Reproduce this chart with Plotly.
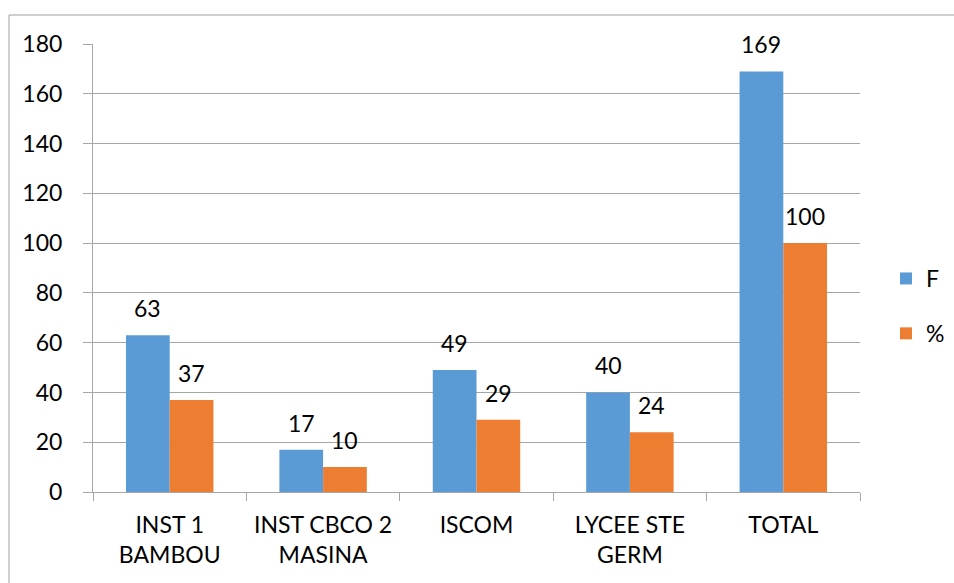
import plotly.graph_objects as go

categories = ["INST 1<br>BAMBOU", "INST CBCO 2<br>MASINA", "ISCOM", "LYCEE STE<br>GERM", "TOTAL"]
freq = [63, 17, 49, 40, 169]
pct = [37, 10, 29, 24, 100]
series_names = ["F", "%"]
colors = ["#5B9BD5", "#ED7D31"]

FONT = "Lato"
W, H = 954, 583
ml, mr, mt, mb = 93, 94, 44, 91
plot_w = W - ml - mr
bargap = 0.43
bar_px = plot_w / len(categories) * (1 - bargap) / 2

fig = go.Figure()
for i, (name, vals) in enumerate(zip(series_names, [freq, pct])):
    fig.add_trace(go.Bar(
        x=categories, y=vals, name=name, marker_color=colors[i],
        marker_line_width=0, legendgroup=name,
    ))
    # value labels above each bar
    for c, v in zip(categories, vals):
        fig.add_annotation(
            x=c, y=v, text=str(v), showarrow=False,
            xref="x", yref="y", yanchor="bottom",
            xshift=(-1 if i == 0 else 1) * bar_px / 2, yshift=11,
            font=dict(family=FONT, size=23, color="#000"),
        )

# outer chart frame
px_x = lambda p: (p - ml) / plot_w
px_y = lambda p: (H - mb - p) / (H - mt - mb)
fig.add_shape(type="rect", xref="paper", yref="paper",
              x0=px_x(9), x1=px_x(965), y0=px_y(15), y1=px_y(600),
              line=dict(color="#a0a0a0", width=1), fillcolor="rgba(0,0,0,0)", layer="below")

fig.update_layout(
    width=W, height=H,
    margin=dict(l=ml, r=mr, t=mt, b=mb, pad=0, autoexpand=False),
    paper_bgcolor="white", plot_bgcolor="white",
    barmode="group", bargap=bargap, bargroupgap=0,
    font=dict(family=FONT, size=23, color="#000"),
    legend=dict(x=px_x(886), y=px_y(306), xanchor="left", yanchor="middle",
                font=dict(family=FONT, size=23), traceorder="grouped",
                tracegroupgap=22, itemwidth=30),
    showlegend=True,
)
fig.update_xaxes(
    type="category", showline=True, linecolor="#a6a6a6", linewidth=1,
    ticks="outside", tickson="boundaries", ticklen=8, tickcolor="#a6a6a6",
    showgrid=False, ticklabelstandoff=12,
    tickfont=dict(family=FONT, size=23),
)
fig.update_yaxes(
    range=[0, 180], dtick=20, showline=True, linecolor="#a6a6a6", linewidth=1,
    showgrid=True, gridcolor="#a6a6a6", gridwidth=1,
    ticks="outside", ticklen=9, tickcolor="#a6a6a6",
    ticklabelstandoff=16, zeroline=False,
    tickfont=dict(family=FONT, size=23),
)

fig.write_html("out.html")
